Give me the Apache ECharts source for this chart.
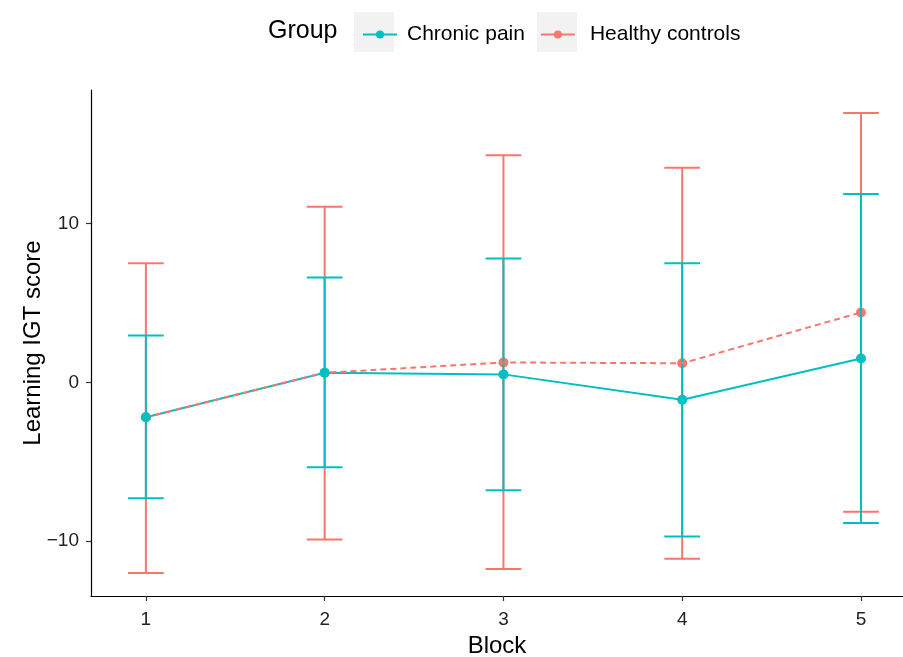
<!DOCTYPE html>
<html>
<head>
<meta charset="utf-8">
<script src="https://cdn.jsdelivr.net/npm/echarts@6/dist/echarts.min.js"></script>
<style>
html,body{margin:0;padding:0;background:#fff;}
#chart{width:903px;height:657px;}
</style>
</head>
<body>
<div id="chart"></div>
<script>
const blocks = [1, 2, 3, 4, 5];
const xTicks = [1, 2, 3, 4, 5];
const yTicks = [-10, 0, 10];
const groupNames = ['Chronic pain', 'Healthy controls'];
const cpMean  = [-2.2, 0.6, 0.5, -1.1, 1.5];
const cpLower = [-7.3, -5.35, -6.8, -9.7, -8.85];
const cpUpper = [2.95, 6.6, 7.8, 7.5, 11.85];
const hcMean  = [-2.2, 0.6, 1.25, 1.2, 4.4];
const hcLower = [-12.0, -9.9, -11.75, -11.1, -8.15];
const hcUpper = [7.5, 11.05, 14.3, 13.5, 16.95];

const TEAL = '#00BFC4';
const RED = '#F8766D';
const FONT = '"Liberation Sans", Arial, Helvetica, sans-serif';

function pts(mean) { return blocks.map((b, i) => [b, mean[i]]); }
function bars(lo, hi) { return blocks.map((b, i) => [b, lo[i], hi[i]]); }

function errRender(color) {
  return function (params, api) {
    const x = api.value(0), lo = api.value(1), hi = api.value(2);
    const w = 0.1;
    const top = api.coord([x, hi]);
    const bot = api.coord([x, lo]);
    const tl = api.coord([x - w, hi]), tr = api.coord([x + w, hi]);
    const bl = api.coord([x - w, lo]), br = api.coord([x + w, lo]);
    const style = { stroke: color, lineWidth: 2, fill: null };
    return {
      type: 'group',
      children: [
        { type: 'line', shape: { x1: top[0], y1: top[1], x2: bot[0], y2: bot[1] }, style: style },
        { type: 'line', shape: { x1: tl[0], y1: tl[1], x2: tr[0], y2: tr[1] }, style: style },
        { type: 'line', shape: { x1: bl[0], y1: bl[1], x2: br[0], y2: br[1] }, style: style }
      ]
    };
  };
}

const chart = echarts.init(document.getElementById('chart'), null, { renderer: 'canvas' });
const option = {
  animation: false,
  backgroundColor: '#ffffff',
  textStyle: { fontFamily: FONT },
  grid: { left: 91, right: 0, top: 90, bottom: 61, containLabel: false, outerBoundsMode: 'none' },
  graphic: [
    { type: 'rect', left: 354, top: 12, shape: { width: 40, height: 40 }, style: { fill: '#f2f2f2' }, z: -1 },
    { type: 'rect', left: 537, top: 12, shape: { width: 40, height: 40 }, style: { fill: '#f2f2f2' }, z: -1 },
    { type: 'text', left: 268, top: 19, style: { text: 'Group', font: '25px ' + FONT, fill: '#000' } }
  ],
  legend: {
    left: 357,
    top: 19,
    itemWidth: 34,
    itemHeight: 10,
    itemGap: 15,
    textStyle: { fontSize: 21, color: '#000', fontFamily: FONT, padding: [0, 0, 0, 5] },
    data: [
      { name: groupNames[0] },
      { name: groupNames[1], lineStyle: { type: 'solid' },
        textStyle: { fontSize: 21, color: '#000', fontFamily: FONT, padding: [0, 0, 0, 10] } }
    ]
  },
  xAxis: {
    type: 'value',
    min: 0.693,
    max: 5.235,
    name: 'Block',
    nameLocation: 'middle',
    nameGap: 38,
    nameMoveOverlap: false,
    nameTextStyle: { fontSize: 24, color: '#000', fontFamily: FONT },
    splitLine: { show: false },
    axisLine: { show: true, onZero: false, lineStyle: { color: '#000', width: 1.2 } },
    axisTick: { show: true, length: 5, customValues: xTicks, lineStyle: { color: '#333', width: 1.2 } },
    axisLabel: { customValues: xTicks, fontSize: 19, color: '#222', margin: 14, fontFamily: FONT }
  },
  yAxis: {
    type: 'value',
    min: -13.45,
    max: 18.4,
    name: 'Learning IGT score',
    nameLocation: 'middle',
    nameGap: 46,
    nameMoveOverlap: false,
    nameRotate: 90,
    nameTextStyle: { fontSize: 24, color: '#000', fontFamily: FONT },
    splitLine: { show: false },
    axisLine: { show: true, onZero: false, lineStyle: { color: '#000', width: 1.2 } },
    axisTick: { show: true, length: 5, customValues: yTicks, lineStyle: { color: '#333', width: 1.2 } },
    axisLabel: {
      customValues: yTicks, fontSize: 19, color: '#222', margin: 12, fontFamily: FONT,
      formatter: function (v) { return String(v).replace('-', '\u2212'); }
    }
  },
  series: [
    {
      name: groupNames[0], type: 'line', data: pts(cpMean), z: 4,
      symbol: 'circle', symbolSize: 9, showSymbol: false,
      itemStyle: { color: TEAL }, lineStyle: { color: TEAL, width: 2 }
    },
    {
      name: groupNames[1], type: 'line', data: pts(hcMean), z: 5,
      symbol: 'circle', symbolSize: 9, showSymbol: false,
      itemStyle: { color: RED }, lineStyle: { color: RED, width: 2, type: [6, 4] }
    },
    {
      name: groupNames[1], type: 'custom', data: bars(hcLower, hcUpper), z: 1,
      renderItem: errRender(RED), encode: { x: 0, y: [1, 2] }
    },
    {
      name: groupNames[1], type: 'scatter', data: pts(hcMean), z: 2,
      symbol: 'circle', symbolSize: 10, itemStyle: { color: RED, opacity: 1 }
    },
    {
      name: groupNames[0], type: 'custom', data: bars(cpLower, cpUpper), z: 3,
      renderItem: errRender(TEAL), encode: { x: 0, y: [1, 2] }
    },
    {
      name: groupNames[0], type: 'scatter', data: pts(cpMean), z: 6,
      symbol: 'circle', symbolSize: 10, itemStyle: { color: TEAL, opacity: 1 }
    }
  ]
};
chart.setOption(option);
</script>
</body>
</html>
